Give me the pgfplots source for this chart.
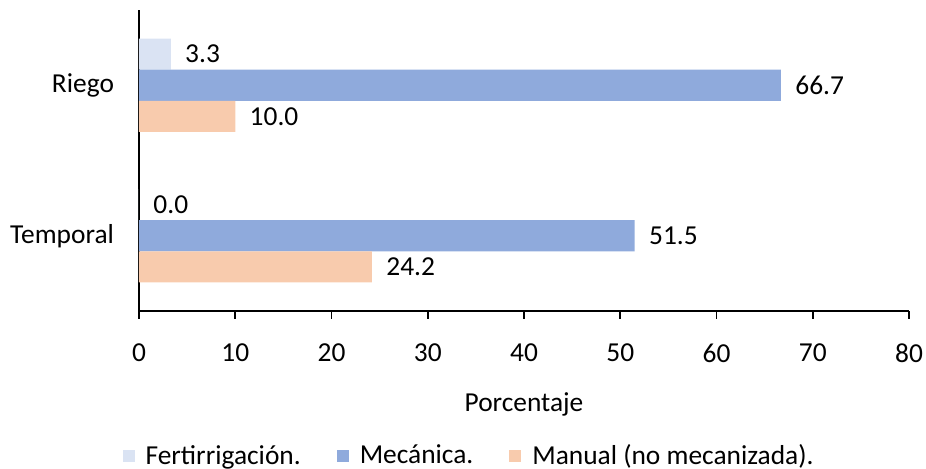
\documentclass[border=0pt]{standalone}
\usepackage{fontspec}
\setmainfont{Carlito}
\usepackage{pgfplots}
\pgfplotsset{compat=1.18}
\definecolor{fert}{HTML}{DAE3F3}
\definecolor{meca}{HTML}{8FAADC}
\definecolor{manu}{HTML}{F8CBAD}
\begin{document}
\begin{tikzpicture}[font=\fontsize{13.7}{16.4}\selectfont]
\begin{axis}[
    xbar,
    scale only axis,
    width=385pt, height=150.5pt,
    xmin=0, xmax=80,
    ymin=-0.5, ymax=1.5,
    ytick={0,1},
    yticklabels={Temporal,Riego},
    xtick={0,10,...,80},
    axis x line=bottom, axis y line=left,
    axis line style={-, black, line width=0.9pt},
    tick align=outside,
    major tick length=4pt,
    xtick style={black, line width=0.9pt},
    ytick style={draw=none},
    yticklabel style={xshift=-5pt},
    xticklabel style={yshift=-9pt},
    xlabel={Porcentaje},
    xlabel style={yshift=-8pt},
    /pgf/number format/assume math mode=true,
    bar width=0.2067,
    nodes near coords={\pgfmathprintnumber[fixed, fixed zerofill, precision=1]{\pgfplotspointmeta}},
    every node near coord/.append style={black, xshift=3.7pt},
    legend columns=3,
    legend style={draw=none, at={(0.43,-0.482)}, anchor=center,
        /tikz/every even column/.append style={column sep=16pt}},
    legend image code/.code={\fill[#1] (0pt,-3pt) rectangle (6pt,3pt);},
]
\addplot[fill=fert, draw=none, bar shift=0.2067] coordinates {(3.3,1) (0.0,0)};
\addlegendentry{\hspace*{3.5pt}Fertirrigación.}
\addplot[fill=meca, draw=none, bar shift=0] coordinates {(66.7,1) (51.5,0)};
\addlegendentry{\hspace*{3.5pt}Mecánica.}
\addplot[fill=manu, draw=none, bar shift=-0.2067] coordinates {(10.0,1) (24.2,0)};
\addlegendentry{\hspace*{3.5pt}Manual (no mecanizada).}
\end{axis}
\pgfresetboundingbox
\path[use as bounding box] (current axis.south west) ++(-69.5pt,-79pt) rectangle ++(463pt,234.5pt);
\end{tikzpicture}
\end{document}
